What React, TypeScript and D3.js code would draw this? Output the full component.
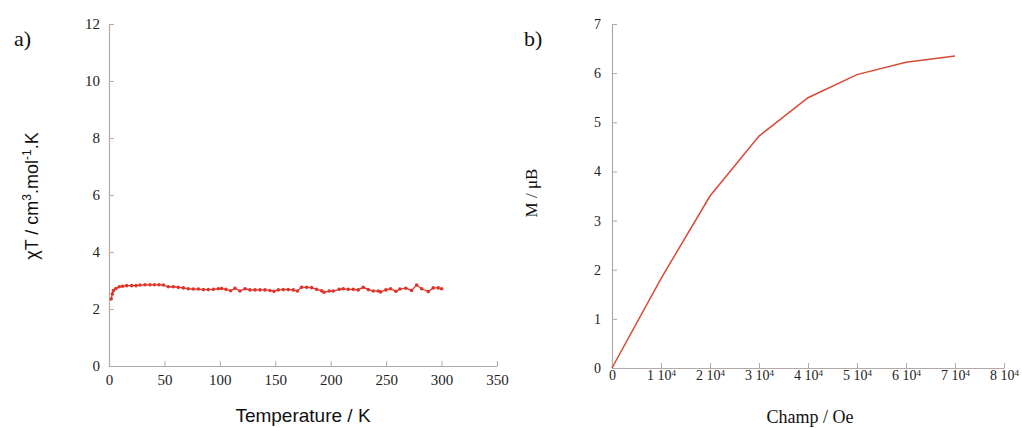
import React, { useEffect, useRef } from "react";
import * as d3 from "d3";

// Panel a: chi*T vs temperature
const tempK = [2, 3, 4, 6.3, 9.3, 12.3, 16, 20.4, 24.4, 28, 32.5, 37, 40.9, 45.1, 49, 53.5, 58, 62.5, 67, 71.5, 76, 80.6, 85.1, 89.6, 94.1, 98.6, 101.6, 105.5, 109.7, 113.6, 118.1, 122.7, 127.2, 131.7, 136.2, 140.7, 145.2, 148.8, 152.7, 157.2, 161.7, 166.2, 169.9, 173.7, 178.3, 182.8, 187.3, 191.8, 193.9, 198.7, 202.3, 207.7, 211.3, 215.8, 220.3, 224.8, 229.4, 233.9, 238.4, 242.9, 245, 249.8, 254, 258.8, 262.4, 267.8, 272.9, 277.5, 282, 288, 292.5, 297, 300];
const chiT = [2.35, 2.53, 2.65, 2.72, 2.78, 2.8, 2.82, 2.82, 2.82, 2.84, 2.85, 2.85, 2.85, 2.85, 2.84, 2.78, 2.78, 2.76, 2.74, 2.71, 2.7, 2.7, 2.68, 2.68, 2.69, 2.71, 2.72, 2.69, 2.64, 2.73, 2.63, 2.71, 2.67, 2.67, 2.67, 2.67, 2.65, 2.62, 2.67, 2.68, 2.68, 2.67, 2.63, 2.76, 2.76, 2.75, 2.69, 2.64, 2.59, 2.63, 2.63, 2.69, 2.71, 2.69, 2.69, 2.67, 2.76, 2.68, 2.63, 2.63, 2.6, 2.67, 2.71, 2.62, 2.7, 2.73, 2.65, 2.84, 2.71, 2.61, 2.74, 2.74, 2.71];
const aXTicks = [0, 50, 100, 150, 200, 250, 300, 350];
const aYTicks = [0, 2, 4, 6, 8, 10, 12];

// Panel b: magnetisation vs field
const fieldOe = [0, 10000, 20000, 30000, 40000, 50000, 60000, 70000];
const magMuB = [0, 1.82, 3.5, 4.72, 5.5, 5.97, 6.22, 6.35];
const bXTicks = [0, 10000, 20000, 30000, 40000, 50000, 60000, 70000, 80000];
const bYTicks = [0, 1, 2, 3, 4, 5, 6, 7];

const AXIS_COLOR = "#b3aaa6";
const TEXT_COLOR = "#222";
const SERIF = "'Liberation Serif', 'Times New Roman', serif";
const SANS = "'Liberation Sans', Arial, sans-serif";

export default function App() {
  const ref = useRef<SVGSVGElement | null>(null);

  useEffect(() => {
    const svg = d3.select(ref.current);
    svg.selectAll("*").remove();

    const styleAxis = (g: any, size: number) => {
      g.attr("font-family", null).attr("font-size", null);
      g.selectAll("path").attr("stroke", AXIS_COLOR).attr("stroke-width", 1.2);
      g.selectAll("line").attr("stroke", AXIS_COLOR).attr("stroke-width", 1);
      g.selectAll("text").attr("fill", TEXT_COLOR).style("font-family", SERIF).style("font-size", `${size}px`);
    };

    // ---------- Panel a ----------
    const ax = d3.scaleLinear().domain([0, 350]).range([109, 497]);
    const ay = d3.scaleLinear().domain([0, 12]).range([366, 24]);

    const gax = svg.append("g").attr("transform", `translate(0,${ay(0)})`)
      .call(d3.axisBottom(ax).tickValues(aXTicks).tickFormat(d3.format("d")).tickSizeInner(-5).tickSizeOuter(0).tickPadding(8));
    styleAxis(gax, 15);

    const gay = svg.append("g").attr("transform", `translate(${ax(0)},0)`)
      .call(d3.axisLeft(ay).tickValues(aYTicks).tickFormat(d3.format("d")).tickSizeInner(-5).tickSizeOuter(0).tickPadding(9));
    styleAxis(gay, 15);

    const aPts = tempK.map((t, i) => [t, chiT[i]] as [number, number]);
    const aLine = d3.line<[number, number]>().x(d => ax(d[0])).y(d => ay(d[1]));
    svg.append("path").attr("d", aLine(aPts)).attr("fill", "none").attr("stroke", "#e0342a").attr("stroke-width", 1.3);
    svg.append("g").selectAll("circle").data(aPts).enter().append("circle")
      .attr("cx", d => ax(d[0])).attr("cy", d => ay(d[1])).attr("r", 1.8).attr("fill", "#e0342a");

    svg.append("text").attr("x", 14).attr("y", 46).style("font-family", SERIF).style("font-size", "22px").attr("fill", "#111").text("a)");

    svg.append("text").attr("x", 303).attr("y", 422).attr("text-anchor", "middle")
      .style("font-family", SANS).style("font-size", "19px").attr("fill", "#111").text("Temperature / K");

    const ayt = svg.append("text").attr("transform", "translate(38,196) rotate(-90)").attr("text-anchor", "middle")
      .style("font-family", SANS).style("font-size", "18px").attr("fill", "#111");
    ayt.append("tspan").text("χT / cm");
    ayt.append("tspan").attr("dy", -7).style("font-size", "12px").text("3");
    ayt.append("tspan").attr("dy", 7).text(".mol");
    ayt.append("tspan").attr("dy", -7).style("font-size", "12px").text("-1");
    ayt.append("tspan").attr("dy", 7).text(".K");

    // ---------- Panel b ----------
    const bx = d3.scaleLinear().domain([0, 80000]).range([612, 1004]);
    const by = d3.scaleLinear().domain([0, 7]).range([368, 24]);

    const gbx = svg.append("g").attr("transform", `translate(0,${by(0)})`)
      .call(d3.axisBottom(bx).tickValues(bXTicks).tickFormat(() => "").tickSizeInner(-5).tickSizeOuter(0).tickPadding(2));
    styleAxis(gbx, 14);
    gbx.selectAll(".tick text").each(function (d: any) {
      const t = d3.select(this as SVGTextElement);
      t.text(null);
      if (d === 0) {
        t.text("0");
      } else {
        t.append("tspan").text(`${d / 10000} 10`);
        t.append("tspan").attr("dy", "-0.45em").style("font-size", "9px").text("4");
      }
    });

    const gby = svg.append("g").attr("transform", `translate(${bx(0)},0)`)
      .call(d3.axisLeft(by).tickValues(bYTicks).tickFormat(d3.format("d")).tickSizeInner(-5).tickSizeOuter(0).tickPadding(11));
    styleAxis(gby, 14);

    const bPts = fieldOe.map((f, i) => [f, magMuB[i]] as [number, number]);
    const bLine = d3.line<[number, number]>().x(d => bx(d[0])).y(d => by(d[1]));
    svg.append("path").attr("d", bLine(bPts)).attr("fill", "none").attr("stroke", "#d94a36").attr("stroke-width", 1.5);

    svg.append("text").attr("x", 524).attr("y", 46).style("font-family", SERIF).style("font-size", "22px").attr("fill", "#111").text("b)");

    svg.append("text").attr("x", 810).attr("y", 423).attr("text-anchor", "middle")
      .style("font-family", SERIF).style("font-size", "18px").attr("fill", "#111").text("Champ / Oe");

    svg.append("text").attr("transform", "translate(537,193) rotate(-90)").attr("text-anchor", "middle")
      .style("font-family", SERIF).style("font-size", "17px").attr("fill", "#111").text("M / μB");
  }, []);

  return (
    <svg ref={ref} width={1022} height={428} style={{ position: "absolute", left: 0, top: 0, background: "#fff" }} />
  );
}
